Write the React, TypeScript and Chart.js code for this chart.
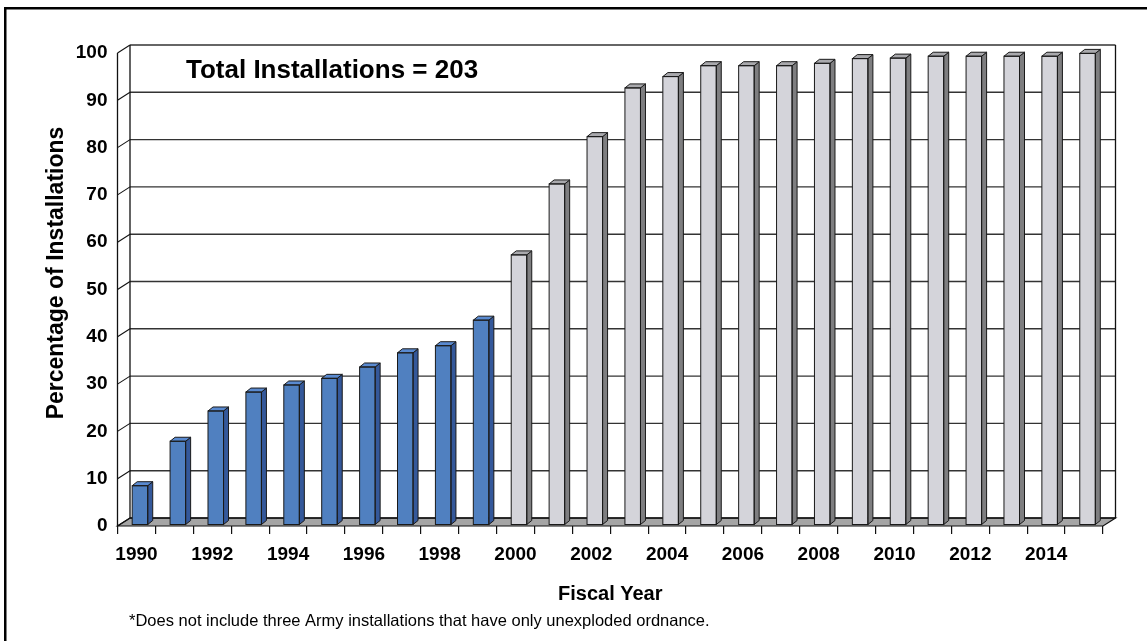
import React, { useEffect, useRef } from "react";
import { Chart, registerables } from "chart.js";

Chart.register(...registerables);

const years = [
  "1990", "1991", "1992", "1993", "1994", "1995", "1996", "1997", "1998", "1999",
  "2000", "2001", "2002", "2003", "2004", "2005", "2006", "2007", "2008", "2009",
  "2010", "2011", "2012", "2013", "2014", "2015",
];
const actualValues = [
  8.2, 17.6, 24.0, 28.0, 29.5, 30.9, 33.3, 36.3, 37.8, 43.2,
  null, null, null, null, null, null, null, null, null, null,
  null, null, null, null, null, null,
];
const projectedValues = [
  null, null, null, null, null, null, null, null, null, null,
  57.0, 72.0, 82.0, 92.3, 94.7, 97.0, 97.0, 97.0, 97.5, 98.5,
  98.6, 99.0, 99.0, 99.0, 99.0, 99.6,
];
const yTicks = [0, 10, 20, 30, 40, 50, 60, 70, 80, 90, 100];
const boxText = "Total Installations = 203";
const footnoteText = "*Does not include three Army installations that have only unexploded ordnance.";
const yTitle = "Percentage of Installations";
const xTitle = "Fiscal Year";

const FONT = "'Liberation Sans', Arial, Helvetica, sans-serif";
const W = 1147;
const H = 641;
const DX = 12.5; // wall depth x
const DY = 8; // wall depth y
const BDX = 5; // bar depth x
const BDY = 4; // bar depth y
const SHIFT_X = 3.5;
const SHIFT_Y = -1.5;

const BLUE = { front: "#5080c0", side: "#34589a", top: "#5a8ad0" };
const GRAY = { front: "#d4d4da", side: "#7e7e80", top: "#a9a9ad" };

const threeD = {
  id: "threeD",
  beforeDraw(chart: any) {
    const { ctx } = chart;
    ctx.save();
    ctx.fillStyle = "#ffffff";
    ctx.fillRect(0, 0, W, H);
    ctx.fillStyle = "#000000";
    ctx.fillRect(4, 7, 2.5, H);
    ctx.fillRect(4, 7, W, 2.5);
    ctx.restore();
  },
  beforeDatasetsDraw(chart: any) {
    const { ctx, chartArea, scales } = chart;
    const { left, right } = chartArea;
    const y = scales.y;
    const y0 = y.getPixelForValue(0);
    const y100 = y.getPixelForValue(100);
    ctx.save();
    // floor
    ctx.beginPath();
    ctx.moveTo(left, y0);
    ctx.lineTo(right, y0);
    ctx.lineTo(right + DX, y0 - DY);
    ctx.lineTo(left + DX, y0 - DY);
    ctx.closePath();
    ctx.fillStyle = "#a5a5a5";
    ctx.fill();
    ctx.lineWidth = 1.2;
    ctx.strokeStyle = "#111";
    ctx.stroke();
    // back wall gridlines & side-wall slants
    yTicks.forEach((v) => {
      const py = y.getPixelForValue(v);
      ctx.beginPath();
      ctx.moveTo(left + DX, py - DY);
      ctx.lineTo(right + DX, py - DY);
      ctx.strokeStyle = v === 0 ? "#111" : "#333";
      ctx.lineWidth = 1.4;
      ctx.stroke();
      ctx.beginPath();
      ctx.moveTo(left, py);
      ctx.lineTo(left + DX, py - DY);
      ctx.strokeStyle = "#111";
      ctx.lineWidth = 1.1;
      ctx.stroke();
    });
    ctx.strokeStyle = "#111";
    ctx.lineWidth = 1.3;
    // back wall left & right edges
    ctx.beginPath();
    ctx.moveTo(left + DX, y0 - DY);
    ctx.lineTo(left + DX, y100 - DY);
    ctx.moveTo(right + DX, y0 - DY);
    ctx.lineTo(right + DX, y100 - DY);
    ctx.stroke();
    // front left axis
    ctx.beginPath();
    ctx.moveTo(left, y0);
    ctx.lineTo(left, y100);
    ctx.stroke();
    ctx.restore();
  },
  beforeDatasetDraw(chart: any) {
    chart.ctx.save();
    chart.ctx.translate(SHIFT_X, SHIFT_Y);
  },
  afterDatasetDraw(chart: any, args: any) {
    const { ctx } = chart;
    const data = chart.data.datasets[args.index].data;
    const pal = args.index === 0 ? BLUE : GRAY;
    args.meta.data.forEach((bar: any, i: number) => {
      if (data[i] === null || data[i] === undefined) return;
      const p = bar.getProps(["x", "y", "base", "width"], true);
      const l = p.x - p.width / 2;
      const r = p.x + p.width / 2;
      ctx.lineWidth = 1;
      ctx.strokeStyle = "#1a1a1a";
      // side face
      ctx.beginPath();
      ctx.moveTo(r, p.base);
      ctx.lineTo(r + BDX, p.base - BDY);
      ctx.lineTo(r + BDX, p.y - BDY);
      ctx.lineTo(r, p.y);
      ctx.closePath();
      ctx.fillStyle = pal.side;
      ctx.fill();
      ctx.stroke();
      // top face
      ctx.beginPath();
      ctx.moveTo(l, p.y);
      ctx.lineTo(l + BDX, p.y - BDY);
      ctx.lineTo(r + BDX, p.y - BDY);
      ctx.lineTo(r, p.y);
      ctx.closePath();
      ctx.fillStyle = pal.top;
      ctx.fill();
      ctx.stroke();
      // front outline
      ctx.strokeRect(l, p.y, p.width, p.base - p.y);
    });
    ctx.restore();
  },
  afterDraw(chart: any) {
    const { ctx } = chart;
    ctx.save();
    ctx.fillStyle = "#000";
    ctx.textBaseline = "alphabetic";
    ctx.textAlign = "left";
    ctx.font = `bold 26px ${FONT}`;
    ctx.fillText(boxText, 186, 78);
    ctx.font = `16.5px ${FONT}`;
    ctx.textBaseline = "middle";
    ctx.fillText(footnoteText, 129, 621);
    // y axis title
    ctx.save();
    ctx.translate(57, 273);
    ctx.rotate(-Math.PI / 2);
    ctx.textAlign = "center";
    ctx.textBaseline = "middle";
    ctx.font = `bold 23px ${FONT}`;
    ctx.fillText(yTitle, 0, 0);
    ctx.restore();
    ctx.restore();
  },
};

export default function App() {
  const ref = useRef<HTMLCanvasElement | null>(null);

  useEffect(() => {
    if (!ref.current) return;
    document.body.style.margin = "0";
    Chart.defaults.font.family = FONT;
    const chart = new Chart(ref.current, {
      type: "bar",
      data: {
        labels: years,
        datasets: [
          {
            label: "Actual",
            data: actualValues as any,
            backgroundColor: BLUE.front,
            borderWidth: 0,
            grouped: false,
            barPercentage: 0.41,
            categoryPercentage: 1,
          } as any,
          {
            label: "Projected",
            data: projectedValues as any,
            backgroundColor: GRAY.front,
            borderWidth: 0,
            grouped: false,
            barPercentage: 0.41,
            categoryPercentage: 1,
          } as any,
        ],
      },
      options: {
        responsive: false,
        maintainAspectRatio: false,
        animation: false,
        layout: { padding: { top: 53, right: 44, left: 0, bottom: 0 } },
        plugins: {
          legend: { display: false },
          tooltip: { enabled: false },
          title: { display: false },
        },
        scales: {
          x: {
            type: "category",
            offset: true,
            grid: {
              display: true,
              offset: true,
              drawOnChartArea: false,
              drawTicks: true,
              tickLength: 8,
              color: "#111",
              lineWidth: 1.2,
            },
            border: { display: false },
            ticks: {
              autoSkip: false,
              maxRotation: 0,
              minRotation: 0,
              color: "#000",
              padding: 9.5,
              font: { size: 19, weight: "bold", family: FONT },
              callback: (_v: any, i: number) => (i % 2 === 0 ? years[i] : ""),
            },
            title: {
              display: true,
              text: xTitle,
              color: "#000",
              font: { size: 20, weight: "bold", family: FONT },
              padding: { top: 0, bottom: 35 },
            },
            afterFit: (s: any) => {
              s.height = H - 526;
            },
          },
          y: {
            min: 0,
            max: 100,
            grid: { display: false, drawTicks: false },
            border: { display: false },
            ticks: {
              stepSize: 10,
              color: "#000",
              padding: 10,
              font: { size: 19, weight: "bold", family: FONT },
            },
            title: { display: false },
            afterFit: (s: any) => {
              s.width = 117.5;
            },
          },
        },
      } as any,
      plugins: [threeD],
    });
    return () => chart.destroy();
  }, []);

  return (
    <div style={{ position: "fixed", left: 0, top: 0, width: W, height: H, background: "#fff" }}>
      <canvas ref={ref} width={W} height={H} style={{ display: "block", width: W, height: H }} />
    </div>
  );
}
